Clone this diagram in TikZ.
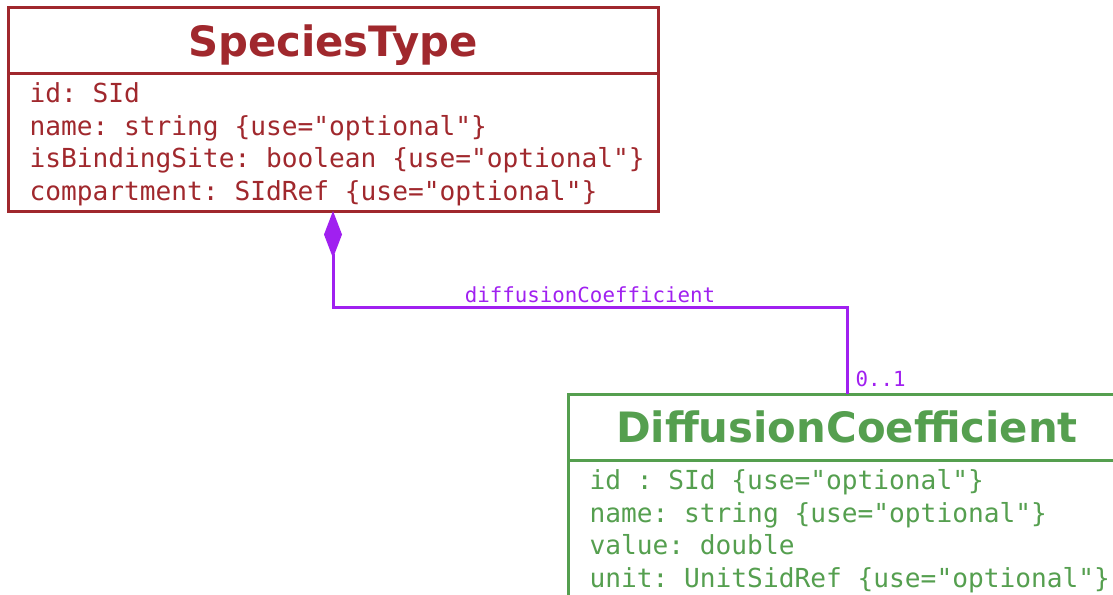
\documentclass[tikz,border=0pt]{standalone}
\usepackage{fontspec}
\usepackage{tikz}
\usetikzlibrary{positioning,arrows.meta}
\newfontfamily\umlsans{DejaVu Sans}
\newfontfamily\umlmono{DejaVu Sans Mono}
\definecolor{stred}{HTML}{A0282D}
\definecolor{dcgreen}{HTML}{559F4F}
\definecolor{assocpurple}{HTML}{A020F0}

\begin{document}
\begin{tikzpicture}[
    x=1pt,
    y=-1pt,
    line width=3pt,
    title node/.style={rectangle,draw,outer sep=0pt,inner sep=0pt,minimum height=65pt,text depth=0pt,font=\umlsans\bfseries\fontsize{41.8}{48}\selectfont},
    attr node/.style={rectangle,draw,outer sep=0pt,inner sep=0pt,minimum height=138pt,anchor=north west},
    attr text/.style={inner sep=0pt,align=left,anchor=north west,font=\umlmono\fontsize{26.2}{32.6}\selectfont\frenchspacing},
    species/.style={draw=stred,text=stred},
    diffusion/.style={draw=dcgreen,text=dcgreen},
    assoc/.style={draw=assocpurple,line width=3pt,{Diamond[length=47pt,width=18pt,fill=assocpurple]}-},
    role label/.style={text=assocpurple,inner sep=0pt,font=\umlmono\fontsize{20.8}{24}\selectfont}
]
\useasboundingbox (0,0) rectangle (1113,594);
\clip (0,0) rectangle (1113,594);

% SpeciesType class
\node[title node, species, minimum width=650pt] (sttitle) at (333,40.5) {SpeciesType};
\node[attr node, species, minimum width=650pt] (stattr) at (sttitle.south west) {};
\node[attr text, text=stred] (stlist) at ([shift={(20pt,-8pt)}]stattr.north west) {id: SId\\name: string \{use="optional"\}\\isBindingSite: boolean \{use="optional"\}\\compartment: SIdRef \{use="optional"\}};

% DiffusionCoefficient class
\node[title node, diffusion, minimum width=558pt, minimum height=66pt] (dctitle) at (847,427) {DiffusionCoefficient};
\node[attr node, diffusion, minimum width=558pt] (dcattr) at (dctitle.south west) {};
\node[attr text, text=dcgreen] (dclist) at ([shift={(20pt,-8pt)}]dcattr.north west) {id : SId \{use="optional"\}\\name: string \{use="optional"\}\\value: double\\unit: UnitSidRef \{use="optional"\}};

% Composition
\draw[assoc] (stattr.south) -- ++(0,96) -| node[pos=0.25, role label, anchor=base, yshift=5pt] {diffusionCoefficient} (dctitle.north);
\node[role label, anchor=base west, xshift=7pt, yshift=8pt] (mult) at (dctitle.north) {0..1};

\end{tikzpicture}
\end{document}
